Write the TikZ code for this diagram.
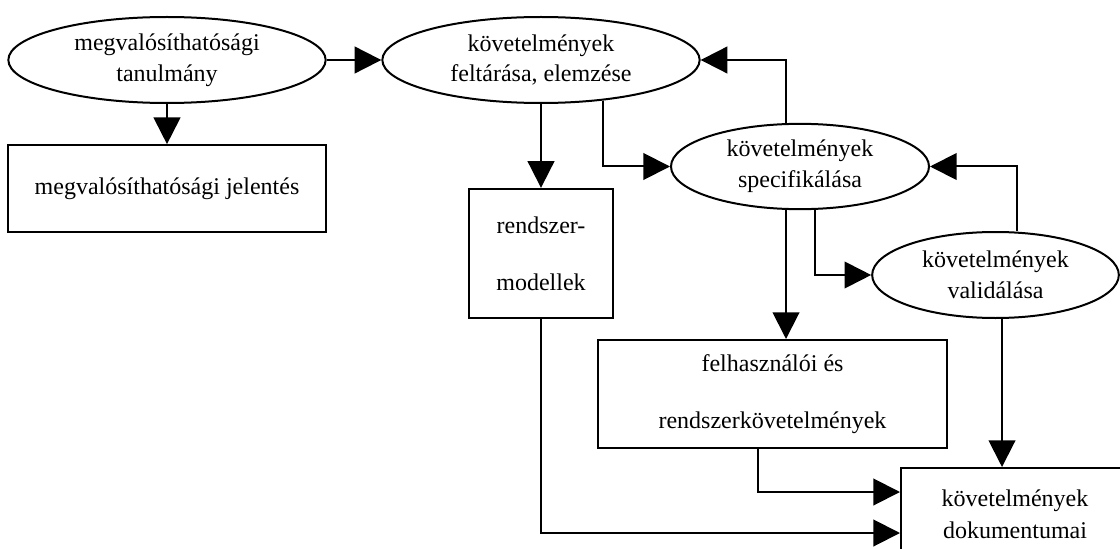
\documentclass[tikz,border=0pt]{standalone}
\usepackage{fontspec}
\setmainfont{Liberation Serif}
\usetikzlibrary{arrows.meta,shapes.geometric,calc}

\begin{document}
\begin{tikzpicture}[x=0.75pt,y=-0.75pt,
        oval/.style={draw,ellipse,line width=1.5pt,inner sep=0pt,align=center,
            font=\fontsize{18}{23}\selectfont},
        doc/.style={draw,rectangle,line width=1.5pt,inner sep=0pt,align=center,
            font=\fontsize{18}{43}\selectfont},
        flow/.style={line width=1.5pt,-{Triangle[length=20pt,width=20pt]}}]

                % Page frame
                \useasboundingbox (0,0) rectangle (1120,549);
                \clip (0,0) rectangle (1120,549);

                % Ellipses
                \node[oval,minimum width=238pt,minimum height=64.5pt] (study) at (167,60) {megvalósíthatósági\\tanulmány};
                \node[oval,minimum width=238pt,minimum height=64.5pt] (elicit) at (541,60) {követelmények\\feltárása, elemzése};
                \node[oval,minimum width=193.5pt,minimum height=64pt] (spec) at (800,166.5) {követelmények\\specifikálása};
                \node[oval,minimum width=185pt,minimum height=64.5pt] (valid) at (995.5,275) {követelmények\\validálása};

                % Boxes
                \node[doc,minimum width=238.5pt,minimum height=65pt] (report) at (167,188.5) {megvalósíthatósági jelentés};
                \node[doc,minimum width=108pt,minimum height=97pt] (models) at (541,253.5) {rendszer-\\modellek};
                \node[doc,minimum width=262pt,minimum height=81pt] (req) at (772.5,394) {felhasználói és\\rendszerkövetelmények};
                \node[doc,minimum width=171pt,minimum height=69pt,font=\fontsize{18}{24}\selectfont] (docs) at (1015,514) {követelmények\\dokumentumai};

                % Bend points
                \coordinate (specback) at ($(spec.north)+(-14,0)$);
                \coordinate (specout) at ($(spec.south)+(-14,0)$);
                \coordinate (specval) at ($(spec.south)+(15,0)$);
                \coordinate (validback) at ($(valid.north)+(21.5,0)$);
                \coordinate (validout) at ($(valid.south)+(6.5,0)$);
                \coordinate (reqout) at ($(req.south)+(-14.5,0)$);

                % Arrows
                \draw[flow] (study) -- (report);
                \draw[flow] (study) -- (elicit);
                \draw[flow] (elicit) -- (models);
                \draw[flow] (elicit.-33.6) |- (spec);
                \draw[flow] (specback) |- (elicit);
                \draw[flow] (specout) -- (specout |- req.north);
                \draw[flow] (specval) |- (valid);
                \draw[flow] (validback) |- (spec);
                \draw[flow] (validout) -- (validout |- docs.north);
                \draw[flow] (reqout) |- ($(docs.west)+(0,-22)$);
                \draw[flow] (models) |- ($(docs.west)+(0,19)$);
            \end{tikzpicture}
\end{document}
